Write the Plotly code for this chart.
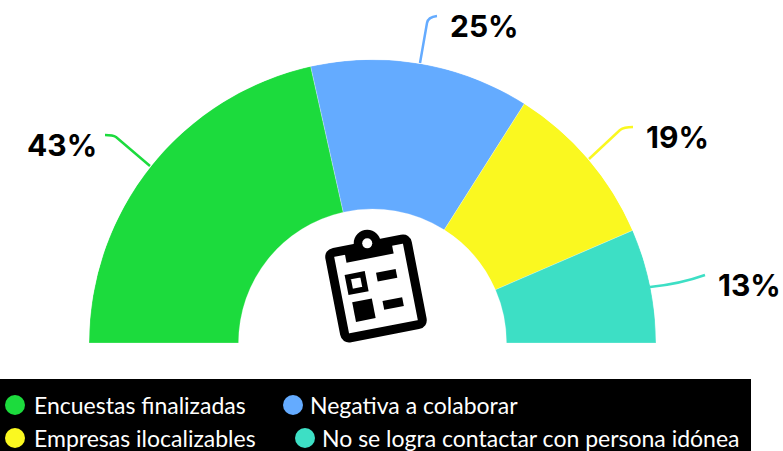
import math
import plotly.graph_objects as go

categories = ["Encuestas finalizadas", "Negativa a colaborar", "Empresas ilocalizables", "No se logra contactar con persona idónea"]
values = [43, 25, 19, 13]
labels = ["43%", "25%", "19%", "13%"]
colors = ["#1CDB3D", "#64ABFF", "#FAF820", "#3DDFC5"]

W, H = 783, 451
CX, CY, R, R_IN = 372.5, 343, 283.5, 134
HOLE = R_IN / R


def px(x):
    return x / W


def py(y):
    return 1 - y / H


def P(x, y):
    return f"{px(x):.5f} {py(y):.5f}"


total = sum(values)
widths, thetas = [], []
cum = 0
for v in values:
    w = v / total * 180
    widths.append(w)
    thetas.append(180 - cum - w / 2)
    cum += w

fig = go.Figure(go.Barpolar(
    r=[1 - HOLE] * 4, base=[HOLE] * 4, theta=thetas, width=widths,
    marker=dict(color=colors, line=dict(color="rgba(255,255,255,0.5)", width=0.5)),
    hoverinfo="text", text=[f"{c}: {l}" for c, l in zip(categories, labels)],
    showlegend=False,
))

shapes, annos = [], []


def path(d, fill=None, line=None, lw=0, layer="above"):
    shapes.append(dict(type="path", xref="paper", yref="paper", path=d, layer=layer,
                       fillcolor=fill or "rgba(0,0,0,0)",
                       line=dict(color=line or "rgba(0,0,0,0)", width=lw)))


# leader lines
path(f"M{P(150,166)} L{P(116,137)} Q{P(113,135)} {P(105,135)}", line=colors[0], lw=2.5)
path(f"M{P(420,63)} L{P(427,23)} Q{P(428,17)} {P(437,16)}", line=colors[1], lw=2.5)
path(f"M{P(589,159)} L{P(620,130)} Q{P(624,127)} {P(633,127)}", line=colors[2], lw=2.5)
path(f"M{P(650,287)} Q{P(680,284)} {P(705,275)}", line=colors[3], lw=2.5)

# value labels
for t, x, y in zip(labels, [62, 484.5, 677.5, 749], [145, 26, 137, 285]):
    annos.append(dict(text=f"<b>{t}</b>", x=px(x), y=py(y), xref="paper", yref="paper",
                      showarrow=False, xanchor="center", yanchor="middle",
                      font=dict(family="Inter", size=30, color="#000000")))

# legend panel
shapes.append(dict(type="rect", xref="paper", yref="paper", x0=0, x1=px(751), y0=0, y1=py(379),
                   fillcolor="#000000", line=dict(width=0), layer="above"))
for c, col, mx, my, tx in zip(categories, colors, [15, 293, 15, 305], [405, 405, 438, 438], [32, 307.5, 32, 320]):
    shapes.append(dict(type="circle", xref="paper", yref="paper", x0=px(mx - 10), x1=px(mx + 10),
                       y0=py(my + 10), y1=py(my - 10), fillcolor=col, line=dict(width=0), layer="above"))
    annos.append(dict(text=c, x=px(tx), y=py(my), xref="paper", yref="paper", showarrow=False,
                      xanchor="left", yanchor="middle",
                      font=dict(family="Lato", size=23, color="#FFFFFF")))

# clipboard icon
ICX, ICY, A = 376, 288.5, math.radians(11)


def L(x, y):
    return P(ICX + x * math.cos(A) + y * math.sin(A), ICY - x * math.sin(A) + y * math.cos(A))


def rect(x, y, w, h):
    return f"M{L(x-w/2,y-h/2)} L{L(x+w/2,y-h/2)} L{L(x+w/2,y+h/2)} L{L(x-w/2,y+h/2)} Z"


def rrect(x, y, w, h, r):
    x0, x1, y0, y1 = x - w / 2, x + w / 2, y - h / 2, y + h / 2
    return (f"M{L(x0+r,y0)} L{L(x1-r,y0)} Q{L(x1,y0)} {L(x1,y0+r)} L{L(x1,y1-r)} Q{L(x1,y1)} {L(x1-r,y1)} "
            f"L{L(x0+r,y1)} Q{L(x0,y1)} {L(x0,y1-r)} L{L(x0,y0+r)} Q{L(x0,y0)} {L(x0+r,y0)} Z")


def circ(x, y, r, fill):
    cx, cy = ICX + x * math.cos(A) + y * math.sin(A), ICY - x * math.sin(A) + y * math.cos(A)
    shapes.append(dict(type="circle", xref="paper", yref="paper", x0=px(cx - r), x1=px(cx + r),
                       y0=py(cy + r), y1=py(cy - r), fillcolor=fill, line=dict(width=0), layer="above"))


path(rrect(0, 0, 79, 87, 5), fill="#FFFFFF", line="#000000", lw=9)
circ(0, -46, 13.5, "#000000")
path(f"M{L(-24,-46)} L{L(24,-46)} L{L(24,-31)} L{L(-24,-31)} Z", fill="#000000")
circ(0, -46, 5, "#FFFFFF")
path(rect(-18, -9, 15, 15), fill="#FFFFFF", line="#000000", lw=5.5)
path(rect(-16, 19, 20, 20), fill="#000000")
path(rect(13, -11, 20, 9), fill="#000000")
path(rect(14, 18, 20, 9), fill="#000000")

fig.update_layout(
    width=W, height=H, margin=dict(l=0, r=0, t=0, b=0),
    paper_bgcolor="#FFFFFF", plot_bgcolor="#FFFFFF",
    shapes=shapes, annotations=annos, showlegend=False,
    polar=dict(
        domain=dict(x=[px(CX - R), px(CX + R)], y=[py(CY), py(CY - R)]),
        sector=[0, 180], bgcolor="rgba(0,0,0,0)", gridshape="circular",
        radialaxis=dict(visible=False, range=[0, 1]),
        angularaxis=dict(visible=False),
    ),
)
fig.write_html("out.html", config=dict(displayModeBar=False),
               post_script="document.body.style.margin='0';document.documentElement.style.overflow='hidden';")
